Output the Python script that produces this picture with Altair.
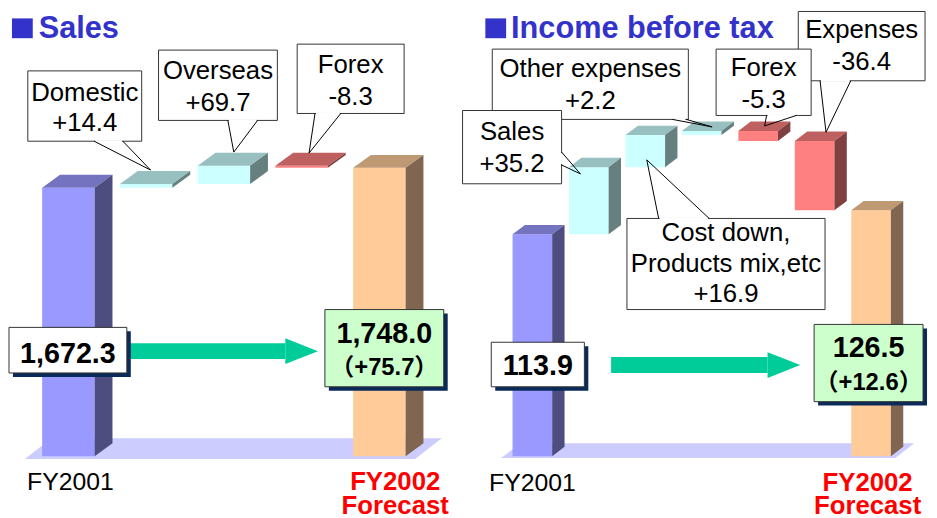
import altair as alt
import pandas as pd

# ---------------- data ----------------
sales_labels = ["FY2001", "Domestic", "Overseas", "Forex", "FY2002"]
sales_values = [1672.3, 14.4, 69.7, -8.3, 1748.0]
sales_kinds = ["total", "delta", "delta", "delta", "total"]
sales_callout_text = {1: ["Domestic"], 2: ["Overseas"], 3: ["Forex"]}

income_labels = ["FY2001", "Sales", "Cost down, Products mix,etc", "Other expenses",
                 "Forex", "Expenses", "FY2002"]
income_values = [113.9, 35.2, 16.9, 2.2, -5.3, -36.4, 126.5]
income_kinds = ["total", "delta", "delta", "delta", "delta", "delta", "total"]
income_callout_text = {1: ["Sales"], 2: ["Cost down,", "Products mix,etc"],
                       3: ["Other expenses"], 4: ["Forex"], 5: ["Expenses"]}

period_first = ["FY2001"]
period_last = ["FY2002", "Forecast"]
titles = ["Sales", "Income before tax"]

# ---------------- styles ----------------
FONT = "Liberation Sans, Arial, Noto Sans CJK JP, sans-serif"
PAL_START = ("#9999ff", "#7373bf", "#4d4d80")
PAL_END = ("#ffcc99", "#bf9973", "#806650")
PAL_UP = ("#ccffff", "#99c0c0", "#668080")
PAL_DOWN = ("#ff8080", "#bf6060", "#804040")
FLOOR = "#ccccff"
ARROW = "#00cc99"
TITLE_BLUE = "#3333cc"
SHADOW = "#0a2a5a"
BOX_STROKE = "#333333"

# ---------------- layout (page pixels) ----------------
SALES_L = dict(
    ox=8, W=462, H=510, first=68, slot=78.5, base=650, base_px=457, k=0.2651,
    bw=53, ddx=18, ddy=13,
    floor=(460, 439, 24, 418, 27),
    square=(11, 15, 32, 35), title_xy=(38, 35),
    arrow=dict(x0=127, x1=287, x2=320, y0=343, y1=359, h0=338, h1=364),
    callouts=[
        dict(bar=1, box=(27, 68, 142, 139), bl=[98, 129], base=[(94, 139), (123, 139)], tip=(4.5, -14)),
        dict(bar=2, box=(159, 47, 279, 118), bl=[76, 108], base=[(229, 118), (259, 118)], tip=(10, -13.7)),
        dict(bar=3, box=(299, 41, 407, 111), bl=[70, 102], base=[(317, 111), (343, 111)], tip=(7.5, -12.7)),
    ],
    vfirst=dict(box=(8, 327, 127, 373), bl=[363]),
    vlast=dict(box=(327, 309, 447, 387), bl=[343, 375]),
    plabel=dict(first_dx=2, last_dx=16, bl=[491, 515]),
)

INCOME_L = dict(
    ox=470, W=467, H=510, first=536.5, slot=57, base=-2.5, base_px=457, k=1.924,
    bw=40, ddx=12.5, ddy=9.5,
    floor=(459, 444, 505, 903, 19),
    square=(489, 15, 510, 35), title_xy=(515, 35),
    arrow=dict(x0=616, x1=774, x2=807, y0=357, y1=373, h0=352, h1=378),
    callouts=[
        dict(bar=3, box=(496, 46, 694, 117), bl=[74, 106], base=[(678, 117), (692, 117)], tip=(10.5, -4)),
        dict(bar=1, box=(466, 108, 566, 182), bl=[138, 170], base=[(566, 150), (566, 163)], tip=(-8.5, 6.7)),
        dict(bar=2, box=(632, 217, 832, 309), bl=[240, 271, 301], base=[(664, 217), (715, 217)], tip=(1.5, 25)),
        dict(bar=5, box=(805, 8, 933, 78), bl=[35, 67], base=[(827, 78), (858, 78)], tip=(11.5, -8.8)),
        dict(bar=4, box=(722, 46, 818, 113), bl=[73, 105], base=[(773, 113), (803, 113)], tip=(6.5, -5)),
    ],
    vfirst=dict(box=(495, 342, 589, 387), bl=[375]),
    vlast=dict(box=(821, 324, 931, 402), bl=[357, 390]),
    plabel=dict(first_dx=0, last_dx=-3.5, bl=[492, 515]),
)


def build_panel(L, labels, values, kinds, callout_text, title):
    X = lambda px: (px - L["first"]) / L["slot"]
    Y = lambda py: L["base"] + (L["base_px"] - py) / L["k"]
    xs = alt.Scale(domain=[X(L["ox"]), X(L["ox"] + L["W"])], nice=False, zero=False)
    ys = alt.Scale(domain=[Y(8 + L["H"]), Y(8)], nice=False, zero=False)
    ex = lambda f: alt.X(f"{f}:Q", scale=xs, axis=None)
    ey = lambda f: alt.Y(f"{f}:Q", scale=ys, axis=None)
    hw = L["bw"] / L["slot"] / 2
    dxu = L["ddx"] / L["slot"]
    dyu = L["ddy"] / L["k"]

    # ---- waterfall geometry from the data ----
    fronts, tops, sides, hi_of = [], [], [], {}
    run = None
    for i, (lab, v, kind) in enumerate(zip(labels, values, kinds)):
        if kind == "total":
            lo, hi = L["base"], v
            run = v
            pal = PAL_START if i == 0 else PAL_END
        else:
            a, b = run, run + v
            run = b
            lo, hi = min(a, b), max(a, b)
            pal = PAL_UP if v >= 0 else PAL_DOWN
        hi_of[i] = hi
        fronts.append(dict(bar=i, x0=i - hw, x1=i + hw, lo=lo, hi=hi, fill=pal[0]))
        tops += [dict(bar=i, y=hi, xa=i - hw, xb=i + hw, fill=pal[1]),
                 dict(bar=i, y=hi + dyu, xa=i - hw + dxu, xb=i + hw + dxu, fill=pal[1])]
        sides += [dict(bar=i, x=i + hw, ya=lo, yb=hi, fill=pal[2]),
                  dict(bar=i, x=i + hw + dxu, ya=lo + dyu, yb=hi + dyu, fill=pal[2])]

    layers = []
    # floor
    fb, ft, fl, fr, fdx = L["floor"]
    floor_df = pd.DataFrame([dict(y=Y(fb), xa=X(fl), xb=X(fr)),
                             dict(y=Y(ft), xa=X(fl + fdx), xb=X(fr + fdx))])
    layers.append(alt.Chart(floor_df).mark_area(orient="horizontal", color=FLOOR)
                  .encode(y=ey("y"), x=ex("xa"), x2="xb"))
    # bars
    layers.append(alt.Chart(pd.DataFrame(fronts)).mark_rect()
                  .encode(x=ex("x0"), x2="x1", y=ey("lo"), y2="hi",
                          color=alt.Color("fill:N", scale=None)))
    layers.append(alt.Chart(pd.DataFrame(tops)).mark_area(orient="horizontal")
                  .encode(y=ey("y"), x=ex("xa"), x2="xb", detail="bar:N",
                          color=alt.Color("fill:N", scale=None)))
    layers.append(alt.Chart(pd.DataFrame(sides)).mark_area(orient="vertical")
                  .encode(x=ex("x"), y=ey("ya"), y2="yb", detail="bar:N",
                          color=alt.Color("fill:N", scale=None)))

    # arrow
    A = L["arrow"]
    shaft = pd.DataFrame([dict(x0=X(A["x0"]), x1=X(A["x1"]), y0=Y(A["y0"]), y1=Y(A["y1"]))])
    layers.append(alt.Chart(shaft).mark_rect(color=ARROW)
                  .encode(x=ex("x0"), x2="x1", y=ey("y0"), y2="y1"))
    mid = (A["h0"] + A["h1"]) / 2
    head = pd.DataFrame([dict(x=X(A["x1"]), ya=Y(A["h0"]), yb=Y(A["h1"])),
                         dict(x=X(A["x2"]), ya=Y(mid), yb=Y(mid))])
    layers.append(alt.Chart(head).mark_area(orient="vertical", color=ARROW)
                  .encode(x=ex("x"), y=ey("ya"), y2="yb"))

    # value boxes
    vb = []
    for spec, fill in ((L["vfirst"], "#ffffff"), (L["vlast"], "#ccffcc")):
        x0, y0, x1, y1 = spec["box"]
        vb.append(dict(x0=X(x0), x1=X(x1), y0=Y(y0), y1=Y(y1),
                       sx0=X(x0 + 4), sx1=X(x1 + 4), sy0=Y(y0 + 4), sy1=Y(y1 + 4), fill=fill))
    vb_df = pd.DataFrame(vb)
    layers.append(alt.Chart(vb_df).mark_rect(color=SHADOW)
                  .encode(x=ex("sx0"), x2="sx1", y=ey("sy0"), y2="sy1"))
    layers.append(alt.Chart(vb_df).mark_rect(stroke=BOX_STROKE, strokeWidth=1)
                  .encode(x=ex("x0"), x2="x1", y=ey("y0"), y2="y1",
                          color=alt.Color("fill:N", scale=None)))

    # callouts
    cboxes, wedges, gaps = [], [], []
    for c in L["callouts"]:
        x0, y0, x1, y1 = c["box"]
        cboxes.append(dict(x0=X(x0), x1=X(x1), y0=Y(y0), y1=Y(y1)))
        i = c["bar"]
        tx = i + c["tip"][0] / L["slot"]
        ty = hi_of[i] - c["tip"][1] / L["k"]
        (b1x, b1y), (b2x, b2y) = c["base"]
        wedges += [dict(id=i, o=0, x=X(b1x), y=Y(b1y)),
                   dict(id=i, o=1, x=tx, y=ty),
                   dict(id=i, o=2, x=X(b2x), y=Y(b2y))]
        if b1y == b2y:
            gaps.append(dict(x=X(b1x + 1), y=Y(b1y), x2=X(b2x - 1), y2=Y(b2y)))
        else:
            gaps.append(dict(x=X(b1x), y=Y(b1y + 1), x2=X(b2x), y2=Y(b2y - 1)))
    layers.append(alt.Chart(pd.DataFrame(cboxes))
                  .mark_rect(fill="white", stroke=BOX_STROKE, strokeWidth=1)
                  .encode(x=ex("x0"), x2="x1", y=ey("y0"), y2="y1"))
    layers.append(alt.Chart(pd.DataFrame(gaps)).mark_rule(color="white", strokeWidth=2)
                  .encode(x=ex("x"), y=ey("y"), x2="x2", y2="y2"))
    layers.append(alt.Chart(pd.DataFrame(wedges)).mark_line(color="black", strokeWidth=1)
                  .encode(x=ex("x"), y=ey("y"), detail="id:N", order="o:Q"))

    # title square
    sq = L["square"]
    layers.append(alt.Chart(pd.DataFrame([dict(x0=X(sq[0]), x1=X(sq[2]), y0=Y(sq[1]), y1=Y(sq[3]))]))
                  .mark_rect(color=TITLE_BLUE)
                  .encode(x=ex("x0"), x2="x1", y=ey("y0"), y2="y1"))

    # ---- texts ----
    normal, bold, left = [], [], []
    for c in L["callouts"]:
        x0, y0, x1, y1 = c["box"]
        i = c["bar"]
        lines = callout_text[i] + [f"{values[i]:+.1f}"]
        for t, b in zip(lines, c["bl"]):
            normal.append(dict(x=X((x0 + x1) / 2), y=Y(b), text=t, size=26, color="#000000"))
    n = len(values)
    x0, y0, x1, y1 = L["vfirst"]["box"]
    bold.append(dict(x=X((x0 + x1) / 2), y=Y(L["vfirst"]["bl"][0]), text=f"{values[0]:,.1f}",
                     size=29, color="#000000"))
    x0, y0, x1, y1 = L["vlast"]["box"]
    bold.append(dict(x=X((x0 + x1) / 2), y=Y(L["vlast"]["bl"][0]), text=f"{values[-1]:,.1f}",
                     size=29, color="#000000"))
    bold.append(dict(x=X((x0 + x1) / 2), y=Y(L["vlast"]["bl"][1]),
                     text=f"（{values[-1] - values[0]:+.1f}）", size=24, color="#000000"))
    P = L["plabel"]
    normal.append(dict(x=0 + P["first_dx"] / L["slot"], y=Y(P["bl"][0]), text=period_first[0],
                       size=25, color="#000000"))
    for t, b in zip(period_last, P["bl"]):
        bold.append(dict(x=(n - 1) + P["last_dx"] / L["slot"], y=Y(b), text=t, size=26, color="#ff0000"))
    left.append(dict(x=X(L["title_xy"][0]), y=Y(L["title_xy"][1]), text=title, size=31, color=TITLE_BLUE))

    for rows, weight, align in ((normal, "normal", "center"), (bold, "bold", "center"), (left, "bold", "left")):
        layers.append(alt.Chart(pd.DataFrame(rows))
                      .mark_text(font=FONT, fontWeight=weight, align=align, baseline="alphabetic")
                      .encode(x=ex("x"), y=ey("y"), text="text:N",
                              size=alt.Size("size:Q", scale=None),
                              color=alt.Color("color:N", scale=None)))

    return alt.layer(*layers).properties(width=L["W"], height=L["H"])


left_panel = build_panel(SALES_L, sales_labels, sales_values, sales_kinds, sales_callout_text, titles[0])
right_panel = build_panel(INCOME_L, income_labels, income_values, income_kinds, income_callout_text, titles[1])

chart = (
    alt.hconcat(left_panel, right_panel, spacing=0, bounds="flush")
    .properties(padding=0)
    .configure_view(stroke=None)
)

chart.save("out.html", embed_options={"renderer": "svg", "actions": False})
